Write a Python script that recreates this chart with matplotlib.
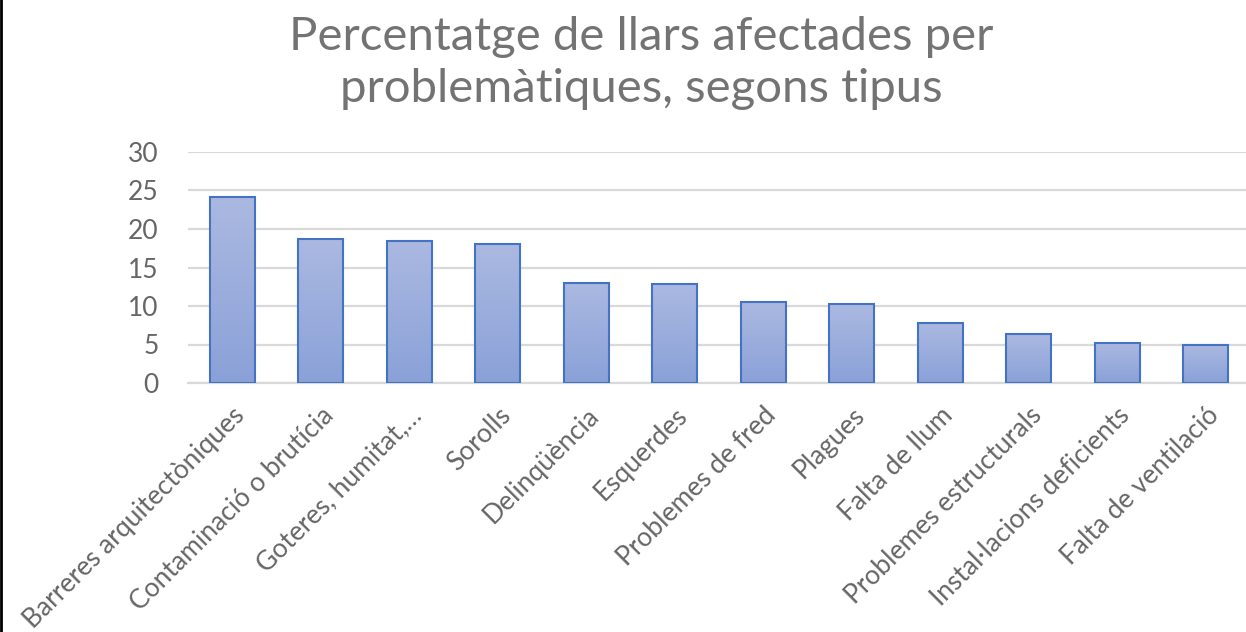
import numpy as np
import matplotlib
matplotlib.use("Agg")
import matplotlib.pyplot as plt
from matplotlib.lines import Line2D
from matplotlib.colors import to_rgb

categories = [
    "Barreres arquitectòniques",
    "Contaminació o brutícia",
    "Goteres, humitat,…",
    "Sorolls",
    "Delinqüència",
    "Esquerdes",
    "Problemes de fred",
    "Plagues",
    "Falta de llum",
    "Problemes estructurals",
    "Instal·lacions deficients",
    "Falta de ventilació",
]
values = [24.1, 18.7, 18.5, 18.1, 13.0, 12.9, 10.5, 10.2, 7.8, 6.3, 5.2, 5.0]
yticks = [0, 5, 10, 15, 20, 25, 30]
title = "Percentatge de llars afectades per\nproblemàtiques, segons tipus"

text_color = "#666666"
title_color = "#737373"
grid_color = "#D9D9D9"
edge_color = "#4472C4"
top_color = "#ABB9E1"
bottom_color = "#8AA1D8"

plt.rcParams["font.family"] = ["Lato", "DejaVu Sans"]

W, H = 1246, 632
fig = plt.figure(figsize=(W / 100, H / 100), dpi=100)
ax = fig.add_axes([188 / W, 249 / H, 1062 / W, 231 / H])

x = np.arange(len(categories))
bars = ax.bar(x, values, width=0.51, facecolor="none", edgecolor=edge_color,
              linewidth=1.5, zorder=3)

# vertical gradient inside each bar
c_top = np.array(to_rgb(top_color))
c_bot = np.array(to_rgb(bottom_color))
t = np.linspace(0, 1, 100)[:, None]
grad = (c_top * (1 - t) + c_bot * t)[:, None, :]
for b in bars:
    x0, w, h = b.get_x(), b.get_width(), b.get_height()
    im = ax.imshow(grad, extent=(x0, x0 + w, 0, h), aspect="auto",
                   origin="upper", zorder=2, interpolation="bilinear")
    im.set_clip_path(b)

ax.set_xlim(-0.5, len(categories) - 0.5)
ax.set_ylim(0, 30)
ax.set_yticks(yticks)
ax.set_yticklabels([str(v) for v in yticks])
ax.yaxis.grid(True, color=grid_color, linewidth=1.6, zorder=0)
ax.set_axisbelow(True)
for s in ["top", "right", "left"]:
    ax.spines[s].set_visible(False)
ax.spines["bottom"].set_color(grid_color)
ax.spines["bottom"].set_linewidth(1.6)
ax.spines["bottom"].set_zorder(1)

ax.set_xticks(x)
ax.set_xticklabels(categories, rotation=45, ha="right", rotation_mode="anchor")
ax.tick_params(axis="both", length=0, colors=text_color, labelsize=19)
ax.tick_params(axis="x", pad=14)
ax.tick_params(axis="y", pad=21)

fig.text(641 / W, 1 - 63 / H, title, ha="center", va="center",
         fontsize=34, color=title_color, linespacing=1.3)

fig.add_artist(Line2D([1 / W, 1 / W], [0, 1], transform=fig.transFigure,
                      color="black", linewidth=2))

fig.savefig("out.png", dpi=100)
